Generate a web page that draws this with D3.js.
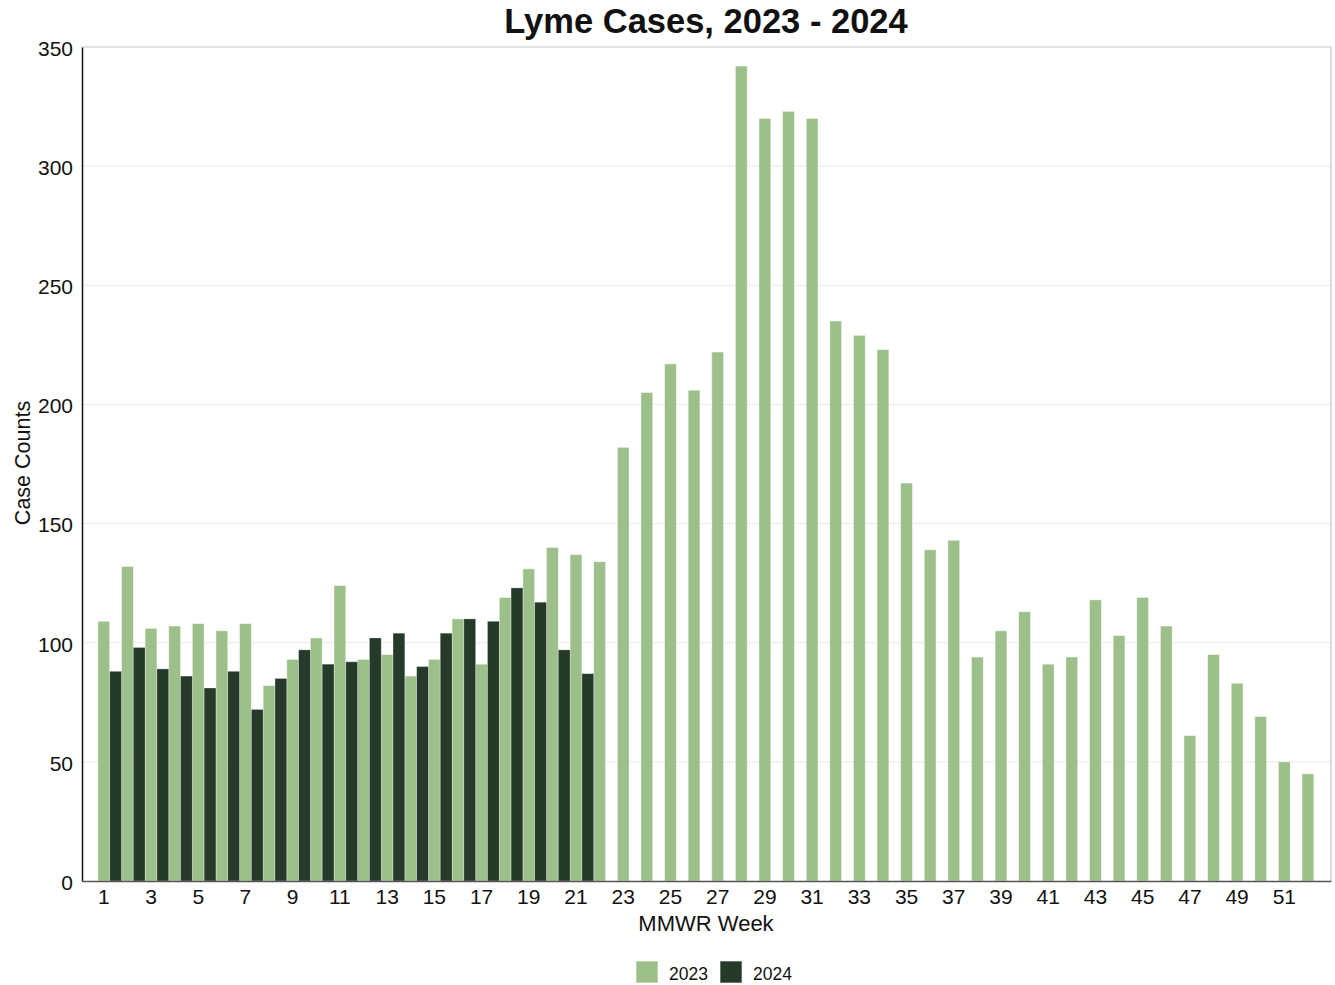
<!DOCTYPE html>
<html>
<head>
<meta charset="utf-8">
<script src="https://cdn.jsdelivr.net/npm/d3@7"></script>
<style>
  html, body { margin: 0; padding: 0; background: #fff; }
  text { font-family: "Liberation Sans", Arial, sans-serif; fill: #111; }
</style>
</head>
<body>
<svg id="chart" width="1335" height="985"></svg>
<script>
const weeks = [1,2,3,4,5,6,7,8,9,10,11,12,13,14,15,16,17,18,19,20,21,22,23,24,25,26,27,28,29,30,31,32,33,34,35,36,37,38,39,40,41,42,43,44,45,46,47,48,49,50,51,52];
const cases2023 = [109,132,106,107,108,105,108,82,93,102,124,93,95,86,93,110,91,119,131,140,137,134,182,205,217,206,222,342,320,323,320,235,229,223,167,139,143,94,105,113,91,94,118,103,119,107,61,95,83,69,50,45];
const cases2024 = [88,98,89,86,81,88,72,85,97,91,92,102,104,90,104,110,109,123,117,97,87];
const xTickLabels = [1,3,5,7,9,11,13,15,17,19,21,23,25,27,29,31,33,35,37,39,41,43,45,47,49,51];
const yTickValues = [0,50,100,150,200,250,300,350];
const seriesNames = ["2023", "2024"];
const colors = ["#9dc08b", "#263a2a"];

const svg = d3.select("#chart");
const m = { left: 82, right: 1331, top: 47, bottom: 881 };

const x = d3.scaleBand().domain(weeks).range([m.left, m.right]).paddingInner(0).paddingOuter(0.45).align(0.47);
const step = x.step();
const bw = step / 2;
const y = d3.scaleLinear().domain([0, 350]).range([m.bottom, m.top]);

// gridlines
svg.append("g").selectAll("line").data(yTickValues.filter(v => v > 0 && v < 350)).join("line")
  .attr("x1", m.left).attr("x2", m.right)
  .attr("y1", d => y(d)).attr("y2", d => y(d))
  .attr("stroke", "#e9e9e9").attr("stroke-width", 1);

// frame (top and right)
svg.append("path")
  .attr("d", `M${m.left},${m.top}H${m.right}V${m.bottom}`)
  .attr("fill", "none").attr("stroke", "#c4c4c4").attr("stroke-width", 1.2);

const center = w => x(w) + step / 2;

// bars 2023 (centered on tick)
svg.append("g").selectAll("rect").data(weeks.map((w, i) => ({ w, v: cases2023[i] }))).join("rect")
  .attr("x", d => center(d.w) - bw / 2)
  .attr("width", bw)
  .attr("y", d => y(d.v))
  .attr("height", d => y(0) - y(d.v))
  .attr("fill", colors[0])
  .attr("stroke", "rgba(255,255,255,0.55)").attr("stroke-width", 0.8);

// bars 2024 (to the right)
svg.append("g").selectAll("rect").data(cases2024.map((v, i) => ({ w: weeks[i], v }))).join("rect")
  .attr("x", d => center(d.w) + bw / 2)
  .attr("width", bw)
  .attr("y", d => y(d.v))
  .attr("height", d => y(0) - y(d.v))
  .attr("fill", colors[1])
  .attr("stroke", "rgba(255,255,255,0.35)").attr("stroke-width", 0.8);

// axes
const yAxis = d3.axisLeft(y).tickValues(yTickValues).tickSize(0).tickPadding(9);
const gy = svg.append("g").attr("transform", `translate(${m.left},0)`).call(yAxis);
gy.select(".domain").attr("stroke", "#111").attr("stroke-width", 1.5);
gy.selectAll("text").attr("font-size", 21).attr("fill", "#111").attr("dy", "0.4em");

const xAxis = d3.axisBottom(x).tickValues(xTickLabels).tickSize(0).tickPadding(8);
const gx = svg.append("g").attr("transform", `translate(0,${m.bottom})`).call(xAxis);
gx.select(".domain").attr("stroke", "#555").attr("stroke-width", 1.5);
gx.selectAll("text").attr("font-size", 21).attr("fill", "#111");

// titles
svg.append("text").attr("x", 706).attr("y", 33).attr("text-anchor", "middle")
  .attr("font-size", 34.5).attr("font-weight", "bold").text("Lyme Cases, 2023 - 2024");
svg.append("text").attr("x", 706).attr("y", 931).attr("text-anchor", "middle")
  .attr("font-size", 22).text("MMWR Week");
svg.append("text").attr("transform", "translate(30,463) rotate(-90)").attr("text-anchor", "middle")
  .attr("font-size", 21.5).text("Case Counts");

// legend
const legendX = [636, 720];
const lg = svg.append("g").selectAll("g").data(seriesNames).join("g")
  .attr("transform", (d, i) => `translate(${legendX[i]},961)`);
lg.append("rect").attr("width", 22).attr("height", 22)
  .attr("fill", (d, i) => colors[i]).attr("stroke", "rgba(255,255,255,0.6)");
lg.append("text").attr("x", 33).attr("y", 18.5).attr("font-size", 17.5).text(d => d);
</script>
</body>
</html>
